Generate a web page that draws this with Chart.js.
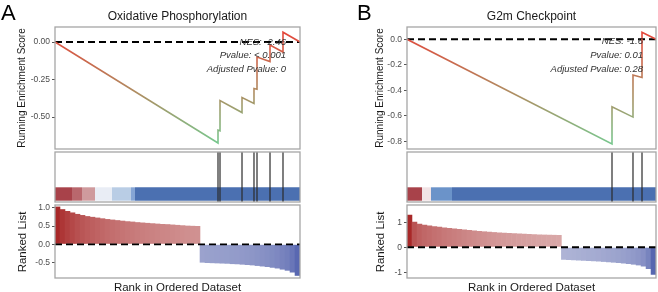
<!DOCTYPE html>
<html>
<head>
<meta charset="utf-8">
<script src="https://cdn.jsdelivr.net/npm/chart.js@4.4.1/dist/chart.umd.min.js"></script>
<style>
  html, body { margin: 0; padding: 0; background: #fff; }
  #wrap { position: relative; width: 658px; height: 292px; overflow: hidden;
          font-family: "Liberation Sans", Arial, sans-serif; }
  canvas { position: absolute; }
  .t { position: absolute; white-space: nowrap; color: #1a1a1a; }
  .letter { font-size: 22px; line-height: 22px; color: #000; }
  .title { font-size: 12px; line-height: 12px; transform: translateX(-50%); }
  .ylab { transform: translate(-50%, -50%) rotate(-90deg); }
  .xlab { font-size: 11.5px; line-height: 12px; transform: translateX(-50%); }
  .note { font-size: 9.5px; line-height: 10px; font-style: italic; color: #333; text-align: right; }
</style>
</head>
<body>
<div id="wrap">
  <canvas id="topA" width="305" height="152" style="left:0;top:0"></canvas>
  <canvas id="midA" width="305" height="56" style="left:0;top:149px"></canvas>
  <canvas id="botA" width="305" height="79" style="left:0;top:202px"></canvas>
  <canvas id="topB" width="306" height="152" style="left:352px;top:0"></canvas>
  <canvas id="midB" width="306" height="56" style="left:352px;top:149px"></canvas>
  <canvas id="botB" width="306" height="79" style="left:352px;top:202px"></canvas>

  <div class="t letter" style="left:1px;top:2px">A</div>
  <div class="t letter" style="left:357px;top:2px">B</div>
  <div class="t title" style="left:177.5px;top:10px">Oxidative Phosphorylation</div>
  <div class="t title" style="left:531.5px;top:10px">G2m Checkpoint</div>

  <div class="t ylab" style="left:21.5px;top:88px;font-size:10px;line-height:10px">Running Enrichment Score</div>
  <div class="t ylab" style="left:380px;top:88px;font-size:10px;line-height:10px">Running Enrichment Score</div>
  <div class="t ylab" style="left:22px;top:242px;font-size:11.5px;line-height:12px">Ranked List</div>
  <div class="t ylab" style="left:379.5px;top:242px;font-size:11.5px;line-height:12px">Ranked List</div>
  <div class="t xlab" style="left:177.5px;top:281px">Rank in Ordered Dataset</div>
  <div class="t xlab" style="left:531.5px;top:281px">Rank in Ordered Dataset</div>

  <div class="t note" style="right:372px;top:37px">NES: -2.46</div>
  <div class="t note" style="right:372px;top:50px">Pvalue: &lt; 0.001</div>
  <div class="t note" style="right:372px;top:64px">Adjusted Pvalue: 0</div>
  <div class="t note" style="right:15px;top:35.5px">NES: -1.6</div>
  <div class="t note" style="right:15px;top:49.5px">Pvalue: 0.01</div>
  <div class="t note" style="right:15px;top:63.5px">Adjusted Pvalue: 0.28</div>
</div>

<script>
const FONT = '"Liberation Sans", Arial, sans-serif';
const N = 10000; // number of ranked genes (x axis)

// A - Oxidative Phosphorylation: running enrichment score around each hit
const hitsA = [6653, 6735, 7633, 8122, 8245, 8776, 9306];
const esBeforeA = [-0.673, -0.592, -0.47, -0.41, -0.315, -0.13, -0.067];
const esAfterA = [-0.587, -0.39, -0.37, -0.31, -0.10, -0.02, 0.065];

// B - G2m Checkpoint
const hitsB = [8233, 9076, 9438];
const esBeforeB = [-0.82, -0.61, -0.30];
const esAfterB = [-0.53, -0.28, 0.055];

// heat strip under the hit lines (rank breaks + fill colours)
const stripBreaksA = [0, 694, 1102, 1633, 2327, 3102, 3265, 10000];
const stripColorsA = ['#a8424a', '#b9676d', '#cf9a9d', '#e9edf5', '#b9cde5', '#85a5d5', '#4b70b1'];
const stripBreaksB = [0, 602, 964, 1807, 10000];
const stripColorsB = ['#a8424a', '#f1e3e5', '#6b93c9', '#4b70b1'];

// ranked list metric (sampled along the ranking)
const rankedA = [1.03, 0.96, 0.91, 0.87, 0.83, 0.80, 0.77, 0.75, 0.73, 0.71,
  0.69, 0.675, 0.66, 0.645, 0.63, 0.62, 0.605, 0.595, 0.585, 0.575,
  0.565, 0.555, 0.55, 0.54, 0.53, 0.52, 0.51, 0.505, 0.50,
  -0.50, -0.51, -0.515, -0.52, -0.525, -0.53, -0.54, -0.545, -0.555, -0.565,
  -0.575, -0.59, -0.605, -0.62, -0.64, -0.66, -0.69, -0.72, -0.77, -0.86];
const rankedB = [1.30, 1.02, 0.94, 0.90, 0.87, 0.84, 0.82, 0.79, 0.77, 0.75,
  0.73, 0.71, 0.69, 0.67, 0.65, 0.635, 0.62, 0.605, 0.59, 0.58,
  0.57, 0.56, 0.55, 0.54, 0.53, 0.52, 0.51, 0.505, 0.50, 0.495, 0.49,
  -0.50, -0.51, -0.52, -0.53, -0.54, -0.55, -0.56, -0.57, -0.585, -0.60,
  -0.615, -0.63, -0.65, -0.67, -0.695, -0.725, -0.77, -0.87, -1.10];

// tick labels
const ticksTopA = [-0.5, -0.25, 0];
const ticksTopB = [-0.8, -0.6, -0.4, -0.2, 0];
const ticksRankA = [-0.5, 0, 0.5, 1];
const ticksRankB = [-1, 0, 1];

// panel border like ggplot theme
const framePlugin = {
  id: 'frame',
  afterDraw(chart) {
    const { ctx, chartArea: a } = chart;
    ctx.save();
    ctx.strokeStyle = '#a6a6a6';
    ctx.lineWidth = 1.3;
    ctx.strokeRect(a.left, a.top, a.right - a.left, a.bottom - a.top);
    ctx.restore();
  }
};

function baseOptions(padding, scales) {
  return {
    responsive: false,
    animation: false,
    events: [],
    layout: { padding },
    plugins: { legend: { display: false }, tooltip: { enabled: false } },
    scales
  };
}

function xHidden(max) {
  return { type: 'linear', min: 0, max, display: false, offset: false };
}

function yScale(min, max, ticks, dec) {
  return {
    type: 'linear', min, max,
    afterFit(s) { s.width = 55; s.paddingTop = 0; s.paddingBottom = 0; },
    afterBuildTicks(s) { s.ticks = ticks.map(v => ({ value: v })); },
    grid: { drawOnChartArea: false, drawTicks: true, tickLength: 3, color: '#555' },
    border: { display: false },
    ticks: { padding: 2, autoSkip: false, color: '#4d4d4d',
             font: { size: 8.5, family: FONT }, callback: v => v.toFixed(dec) }
  };
}

function esPoints(hits, before, after) {
  const pts = [{ x: 0, y: 0 }];
  hits.forEach((h, i) => {
    pts.push({ x: h, y: before[i] });
    pts.push({ x: h, y: after[i] });
  });
  pts.push({ x: N, y: 0 });
  return pts;
}

function topChart(id, hits, before, after, yMin, yMax, ticks, dec, padRight) {
  const pts = esPoints(hits, before, after);
  const lo = Math.min(...pts.map(p => p.y));
  const hi = Math.max(...pts.map(p => p.y));
  new Chart(document.getElementById(id), {
    type: 'line',
    data: {
      datasets: [
        {
          data: pts, borderWidth: 1.6, pointRadius: 0, tension: 0,
          borderColor(c) {
            const chart = c.chart;
            if (!chart.chartArea) return '#d9604a';
            const y = chart.scales.y;
            const g = chart.ctx.createLinearGradient(0, y.getPixelForValue(hi), 0, y.getPixelForValue(lo));
            g.addColorStop(0, '#e4463a');
            g.addColorStop(0.55, '#ae8e62');
            g.addColorStop(1, '#78c78e');
            return g;
          }
        },
        { data: [{ x: 0, y: 0 }, { x: N, y: 0 }], borderColor: '#000', borderWidth: 1.8,
          borderDash: [7, 4], pointRadius: 0 }
      ]
    },
    options: baseOptions({ top: 27, bottom: 3, left: 0, right: padRight },
      { x: xHidden(N), y: yScale(yMin, yMax, ticks, dec) }),
    plugins: [framePlugin]
  });
}

function midChart(id, hits, breaks, colors, padRight) {
  const hitData = [];
  hits.forEach(h => hitData.push({ x: h, y: 0 }, { x: h, y: 1 }, { x: h, y: null }));
  const datasets = [{ data: hitData, borderColor: '#2b2b2b', borderWidth: 1.2, pointRadius: 0, spanGaps: false }];
  colors.forEach((col, i) => {
    datasets.push({
      data: [{ x: breaks[i], y: 0.294 }, { x: breaks[i + 1], y: 0.294 }],
      borderColor: 'transparent', borderWidth: 0, pointRadius: 0,
      fill: { value: 0.026 }, backgroundColor: col
    });
  });
  new Chart(document.getElementById(id), {
    type: 'line',
    data: { datasets },
    options: baseOptions({ top: 3, bottom: 3, left: 55, right: padRight },
      { x: xHidden(N), y: { type: 'linear', min: 0, max: 1, display: false } }),
    plugins: [framePlugin]
  });
}

function rankColor(v, maxAbs) {
  const t = Math.min(1, Math.abs(v) / maxAbs);
  const w = [246, 244, 244];
  const end = v >= 0 ? [168, 40, 40] : [58, 76, 164];
  const c = w.map((a, k) => Math.round(a + (end[k] - a) * t));
  return `rgb(${c[0]},${c[1]},${c[2]})`;
}

function rankChart(id, values, yMin, yMax, ticks, dec, padRight) {
  const n = values.length;
  const maxAbs = Math.max(...values.map(Math.abs));
  new Chart(document.getElementById(id), {
    type: 'bar',
    data: {
      datasets: [
        { type: 'line', data: [{ x: 0, y: 0 }, { x: n, y: 0 }], borderColor: '#000',
          borderWidth: 1.8, borderDash: [7, 4], pointRadius: 0 },
        { type: 'bar', data: values.map((v, i) => ({ x: i + 0.5, y: v })),
          backgroundColor: values.map(v => rankColor(v, maxAbs)),
          borderWidth: 0, barPercentage: 1.12, categoryPercentage: 1 }
      ]
    },
    options: baseOptions({ top: 3, bottom: 3, left: 0, right: padRight },
      { x: xHidden(n), y: yScale(yMin, yMax, ticks, dec) }),
    plugins: [framePlugin]
  });
}

topChart('topA', hitsA, esBeforeA, esAfterA, -0.713, 0.1, ticksTopA, 2, 5);
midChart('midA', hitsA, stripBreaksA, stripColorsA, 5);
rankChart('botA', rankedA, -0.92, 1.074, ticksRankA, 1, 5);

topChart('topB', hitsB, esBeforeB, esAfterB, -0.86, 0.096, ticksTopB, 1, 2);
midChart('midB', hitsB, stripBreaksB, stripColorsB, 2);
rankChart('botB', rankedB, -1.23, 1.69, ticksRankB, 0, 2);
</script>
</body>
</html>
